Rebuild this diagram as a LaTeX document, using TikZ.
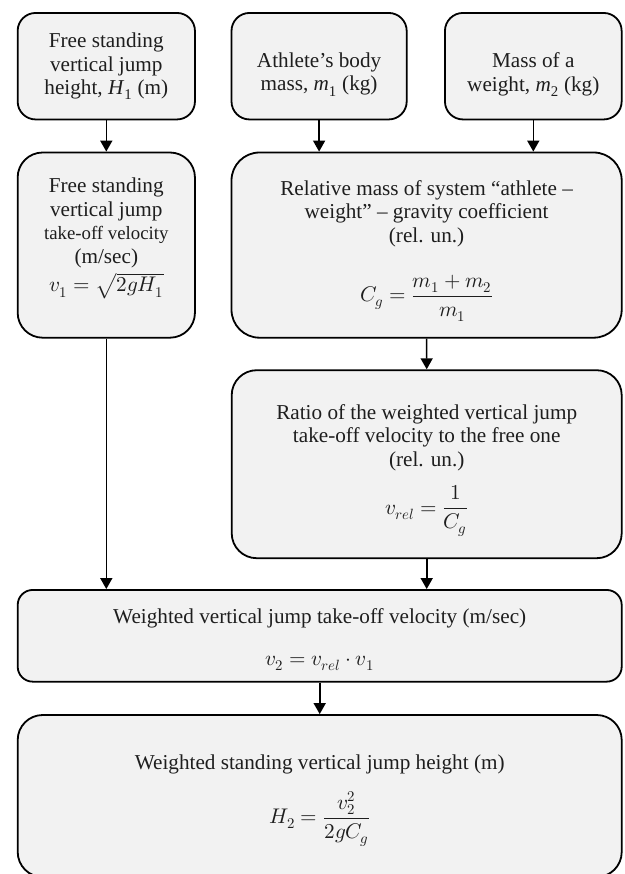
\documentclass[tikz,border=0pt]{standalone}
\usepackage{fontspec}
\usepackage{unicode-math}
\setmainfont{Liberation Serif}
\usetikzlibrary{arrows.meta}
\newcommand{\vsub}[2]{\textit{#1}\textsubscript{#2}}
\definecolor{boxfill}{HTML}{F2F2F2}
\definecolor{ink}{HTML}{1E1E1E}
\tikzset{
  box/.style={draw=black, line width=1.8pt, fill=boxfill, inner sep=0pt},
  label text/.style={align=center, text=ink, inner sep=0pt,
    font=\fontsize{21.2}{23.5}\selectfont},
  flow/.style={line width=1.6pt, -{Triangle[length=11pt,width=12pt]}}
}
\begin{document}
\begin{tikzpicture}[x=1pt,y=-1pt]
\useasboundingbox (0,0) rectangle (624,874);
\begin{scope}
\clip (0,0) rectangle (624,874);

% input quantities
\node[box, rounded corners=18pt, minimum width=177.3pt, minimum height=106.5pt]
  (h1) at (106.3,66.2) {};
\node[box, rounded corners=18pt, minimum width=175.2pt, minimum height=106.5pt]
  (m1) at (319.1,66.2) {};
\node[box, rounded corners=18pt, minimum width=176.7pt, minimum height=106.5pt]
  (m2) at (533.3,66.2) {};

% derived quantities
\node[box, rounded corners=25pt, minimum width=177.3pt, minimum height=185.2pt]
  (v1) at (106.3,245.1) {};
\node[box, rounded corners=28pt, minimum width=390.2pt, minimum height=185.2pt]
  (cg) at (426.6,245.1) {};
\node[box, rounded corners=25pt, minimum width=390pt, minimum height=188pt]
  (vr) at (426.7,464.2) {};
\node[box, rounded corners=15pt, minimum width=604pt, minimum height=91.7pt]
  (v2) at (319.7,635.8) {};
\node[box, rounded corners=25pt, minimum width=604pt, minimum height=162pt]
  (h2) at (319.7,796) {};

% box texts
\node[label text] (h1t) at (106.3,66.5) {Free standing\\vertical jump\\height, \vsub{H}{1} (m)};
\node[label text] (m1t) at (319.1,74.5) {Athlete’s body\\mass, \vsub{m}{1} (kg)};
\node[label text] (m2t) at (533.3,74.5) {Mass of a\\weight, \vsub{m}{2} (kg)};
\node[label text] (v1t) at (106.3,238.5) {Free standing\\vertical jump\\{\fontsize{18.8}{23.5}\selectfont take-off velocity}\\(m/sec)\\[4pt]$v_1=\sqrt{2gH_1}$};
\node[label text] (cgt) at (426.6,251) {Relative mass of system “athlete –\\weight” – gravity coefficient\\(rel. un.)\\[27pt]$C_g=\dfrac{m_1+m_2}{m_1}$};
\node[label text] (vrt) at (426.7,470.5) {Ratio of the weighted vertical jump\\take-off velocity to the free one\\(rel. un.)\\[14pt]$v_{rel}=\dfrac{1}{C_g}$};
\node[label text] (v2t) at (319.7,639.5) {Weighted vertical jump take-off velocity (m/sec)\\[18pt]$v_2=v_{rel}\cdot v_1$};
\node[label text] (h2t) at (319.7,800.5) {Weighted standing vertical jump height (m)\\[17pt]$H_2=\dfrac{v_2^2}{2gC_g}$};

% connectors
\draw[flow] (h1.south) -- (v1.north);
\draw[flow] (m1.south) -- (m1.south |- cg.north);
\draw[flow] (m2.south) -- (m2.south |- cg.north);
\draw[flow] (cg.south) -- (vr.north);
\draw[flow] (v1.south) -- (v1.south |- v2.north);
\draw[flow] (vr.south) -- (vr.south |- v2.north);
\draw[flow] (v2.south) -- (h2.north);
\end{scope}
\end{tikzpicture}
\end{document}
